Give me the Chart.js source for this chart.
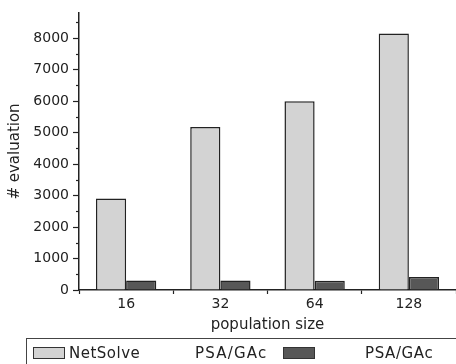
<!DOCTYPE html>
<html>
<head>
<meta charset="utf-8">
<script src="https://cdn.jsdelivr.net/npm/chart.js@4/dist/chart.umd.min.js"></script>
<style>
  html, body { margin: 0; padding: 0; background: #fff; }
  #wrap { position: relative; width: 456px; height: 364px; overflow: hidden; }
  #c { position: absolute; left: 0; top: 0; }
  #legend { position: absolute; left: 26px; top: 338px; width: 440px; height: 40px;
            border: 1px solid #444; box-sizing: border-box; }
  .sw { position: absolute; width: 30px; height: 10px; border: 1px solid #333; }
  .lt { position: absolute; font-family: "DejaVu Sans", sans-serif; font-size: 15px;
        color: #222; line-height: 18px; white-space: nowrap; }
</style>
</head>
<body>
<div id="wrap">
  <canvas id="c" width="456" height="364"></canvas>
  <div id="legend">
    <div class="sw" style="left:6px; top:8px; background:#d3d3d3;"></div>
    <div class="lt" style="left:42px; top:5px; letter-spacing:0.5px;">NetSolve</div>
    <div class="lt" style="left:168px; top:5px; letter-spacing:1.2px;">PSA/GAc</div>
    <div class="sw" style="left:256px; top:8px; background:#575757;"></div>
    <div class="lt" style="left:338px; top:5px; letter-spacing:0.6px;">PSA/GAc</div>
  </div>
</div>
<script>
const categories = ['16', '32', '64', '128'];
const netSolve = [2910, 5180, 6000, 8150];
const psaGAc = [300, 300, 290, 410];
const yMax = 8800;
const yMajorTicks = [0, 1000, 2000, 3000, 4000, 5000, 6000, 7000, 8000];
const yMinorTicks = [500, 1500, 2500, 3500, 4500, 5500, 6500, 7500, 8500];
const xTitle = 'population size';
const yTitle = '# evaluation';

const minorTicks = {
  id: 'minorTicks',
  afterDraw(chart) {
    const y = chart.scales.y;
    const ctx = chart.ctx;
    ctx.save();
    ctx.strokeStyle = '#222';
    ctx.lineWidth = 1.2;
    for (const v of yMinorTicks) {
      const py = Math.round(y.getPixelForValue(v)) + 0.5;
      ctx.beginPath();
      ctx.moveTo(y.right - 3, py);
      ctx.lineTo(y.right, py);
      ctx.stroke();
    }
    ctx.restore();
  }
};

const fontFam = '"DejaVu Sans", sans-serif';
new Chart(document.getElementById('c'), {
  type: 'bar',
  data: {
    labels: categories,
    datasets: [
      { label: 'NetSolve', data: netSolve, backgroundColor: '#d3d3d3', borderColor: '#222', borderWidth: 1.5 },
      { label: 'PSA/GAc', data: psaGAc, backgroundColor: '#575757', borderColor: '#222', borderWidth: 1.5 }
    ]
  },
  plugins: [minorTicks],
  options: {
    responsive: false,
    animation: false,
    devicePixelRatio: 1,
    layout: { padding: { top: 13, right: 0, bottom: 30, left: 0 } },
    datasets: { bar: { categoryPercentage: 0.64, barPercentage: 1.0 } },
    plugins: { legend: { display: false }, tooltip: { enabled: false } },
    scales: {
      x: {
        grid: { display: true, drawOnChartArea: false, offset: true, tickLength: 4, tickColor: '#222', tickWidth: 1.2 },
        border: { display: true, color: '#222', width: 1.5 },
        ticks: { color: '#222', font: { family: fontFam, size: 14 }, padding: 2, maxRotation: 0 },
        title: { display: true, text: xTitle, color: '#222', font: { family: fontFam, size: 15 }, padding: 0 },
        afterFit(s) { s.height = 44; }
      },
      y: {
        min: 0,
        max: yMax,
        grid: { display: true, drawOnChartArea: false, tickLength: 6, tickWidth: 1.2, tickColor: '#222' },
        border: { display: true, color: '#222', width: 1.5 },
        ticks: { autoSkip: false, color: '#222', font: { family: fontFam, size: 14 }, padding: 4,
                 callback: (v) => String(v) },
        afterBuildTicks(s) { s.ticks = yMajorTicks.map(v => ({ value: v })); },
        title: { display: true, text: yTitle, color: '#222', font: { family: fontFam, size: 15 }, padding: { top: 6, bottom: 0 } },
        afterFit(s) { s.width = 79; }
      }
    }
  }
});
</script>
</body>
</html>
